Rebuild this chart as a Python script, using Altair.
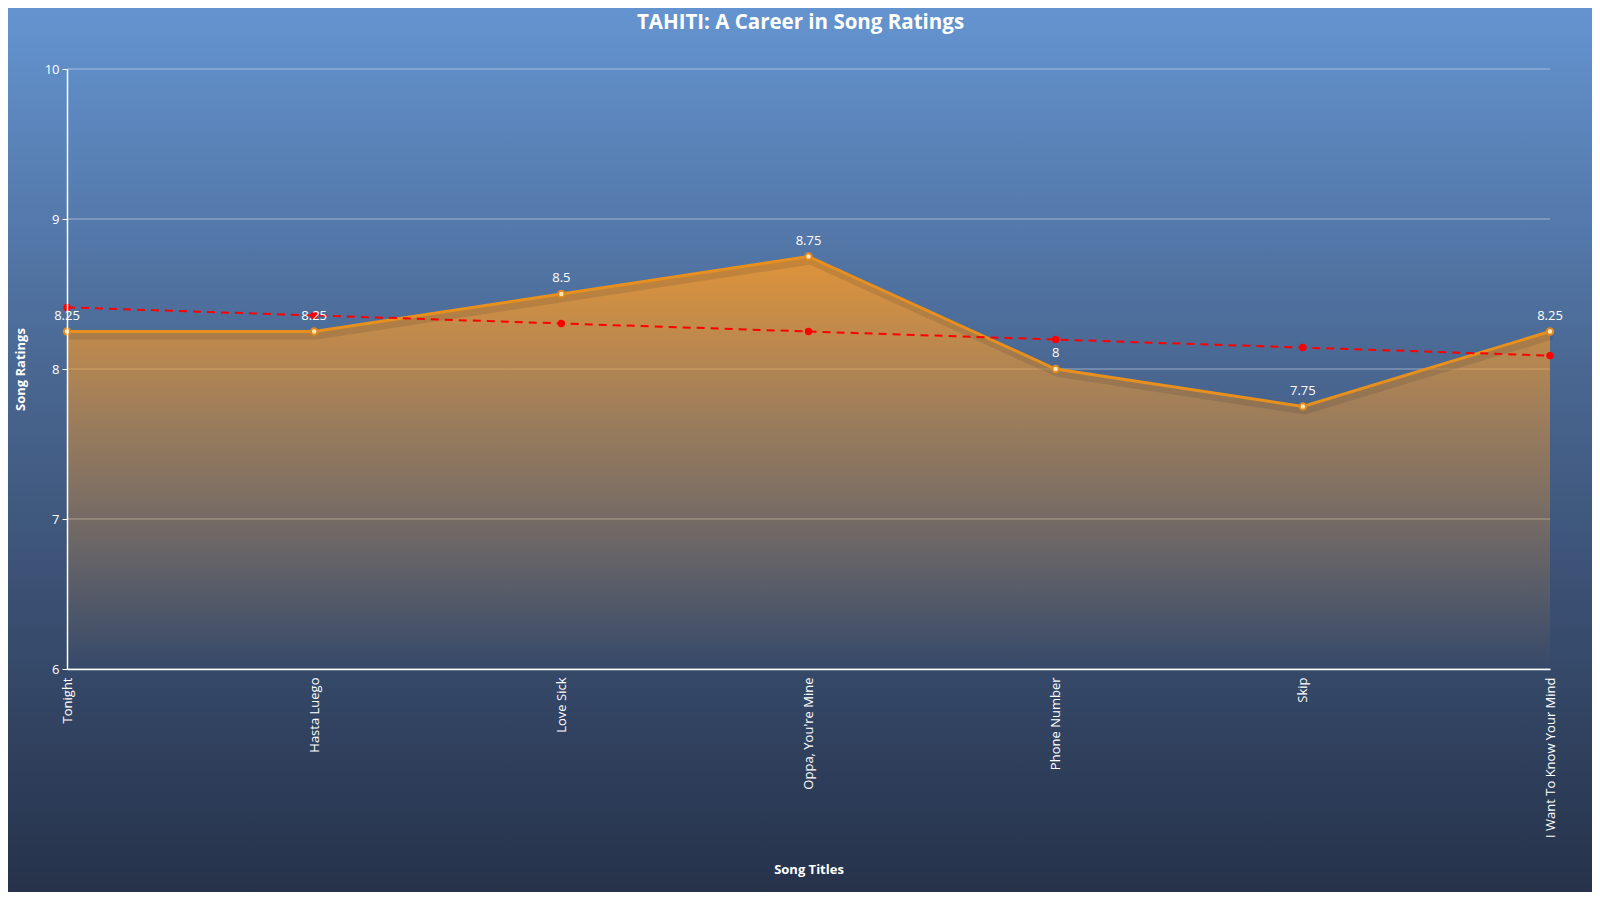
import altair as alt
import pandas as pd

songs = ["Tonight", "Hasta Luego", "Love Sick", "Oppa, You're Mine",
         "Phone Number", "Skip", "I Want To Know Your Mind"]
ratings = [8.25, 8.25, 8.5, 8.75, 8.0, 7.75, 8.25]
y_ticks = [6, 7, 8, 9, 10]
chart_title = "TAHITI: A Career in Song Ratings"

df = pd.DataFrame({"idx": list(range(len(songs))), "song": songs, "rating": ratings})
grid_df = pd.DataFrame({"tick": y_ticks})

W, H = 1483, 600
FONT = "Open Sans"

x_enc = alt.X("song:N", sort=songs, title="Song Titles",
              scale=alt.Scale(type="point", padding=0),
              axis=alt.Axis(labelAngle=-90, ticks=False, labelPadding=8, grid=False,
                            titleY=200, titleX=W / 2, titleBaseline="middle", zindex=1))
y_scale = alt.Scale(domain=[6, 10], zero=False, nice=False)
y_axis = alt.Axis(values=y_ticks, tickSize=5, labelPadding=3, grid=False,
                  titleX=-47, titleY=H / 2, titleBaseline="middle", zindex=1)


def y_of(field):
    return alt.Y(field, title="Song Ratings", scale=y_scale, axis=y_axis)


bg = alt.Chart(alt.Data(values=[{}])).mark_rect(
    color=alt.Gradient(
        gradient="linear", x1=0, x2=0, y1=0, y2=1,
        stops=[alt.GradientStop(color="#6494d0", offset=0),
               alt.GradientStop(color="#4a6893", offset=0.4),
               alt.GradientStop(color="#26324a", offset=1)]),
).encode(x=alt.value(-59), x2=alt.value(W + 42), y=alt.value(-61), y2=alt.value(H + 223))

title_txt = alt.Chart(alt.Data(values=[{"t": chart_title}])).mark_text(
    font=FONT, fontSize=20.5, fontWeight="bold", color="white", align="center",
    baseline="alphabetic",
).encode(x=alt.value(W / 2 - 8), y=alt.value(-40), text="t:N")

base = alt.Chart(df)

area = base.mark_area(
    color=alt.Gradient(
        gradient="linear", x1=0, x2=0, y1=0, y2=1,
        stops=[alt.GradientStop(color="rgba(238,150,45,0.9)", offset=0),
               alt.GradientStop(color="rgba(238,150,45,0.55)", offset=0.35),
               alt.GradientStop(color="rgba(238,150,45,0.0)", offset=1)]),
).encode(x=x_enc, y=y_of("rating:Q"), y2=alt.datum(6))

grid = alt.Chart(grid_df).mark_rule(color="white", opacity=0.45, strokeWidth=1).encode(
    y=y_of("tick:Q"), x=alt.value(0), x2=alt.value(W))

shadow = base.mark_line(color="#1a2233", opacity=0.12, strokeWidth=8,
                        xOffset=2, yOffset=4).encode(x=x_enc, y=y_of("rating:Q"))

line = base.mark_line(color="#e8901e", strokeWidth=3).encode(x=x_enc, y=y_of("rating:Q"))

points = base.mark_point(filled=True, fill="#fde6bb", stroke="#e08a1e",
                         strokeWidth=2, size=42, opacity=1).encode(x=x_enc, y=y_of("rating:Q"))

labels = base.mark_text(color="white", font=FONT, fontSize=13, dy=-16).encode(
    x=x_enc, y=y_of("rating:Q"), text=alt.Text("rating:Q"))

trend_base = base.transform_joinaggregate(
    mx="mean(idx)", my="mean(rating)"
).transform_calculate(
    dxy="(datum.idx - datum.mx) * (datum.rating - datum.my)",
    dxx="(datum.idx - datum.mx) * (datum.idx - datum.mx)",
).transform_joinaggregate(
    sxy="sum(dxy)", sxx="sum(dxx)"
).transform_calculate(
    trend="datum.my + datum.sxy / datum.sxx * (datum.idx - datum.mx)"
)

trend_line = trend_base.mark_line(color="#ff0000", strokeWidth=2, strokeDash=[8, 6]).encode(
    x=x_enc, y=y_of("trend:Q"))
trend_pts = trend_base.mark_circle(color="#ff0000", size=55, opacity=1).encode(
    x=x_enc, y=y_of("trend:Q"))

chart = alt.layer(bg, title_txt, grid, area, shadow, line, trend_line, trend_pts,
                  points, labels).properties(
    width=W, height=H, padding=0,
    background="#3e5678",
).configure_view(strokeWidth=0).configure_axis(
    domainColor="white", domainWidth=1.5, tickColor="white",
    labelColor="white", labelFont=FONT, labelFontSize=13,
    titleColor="white", titleFont=FONT, titleFontSize=13, titleFontWeight="bold",
)

chart.save("out.html", embed_options={"renderer": "svg", "actions": False})
